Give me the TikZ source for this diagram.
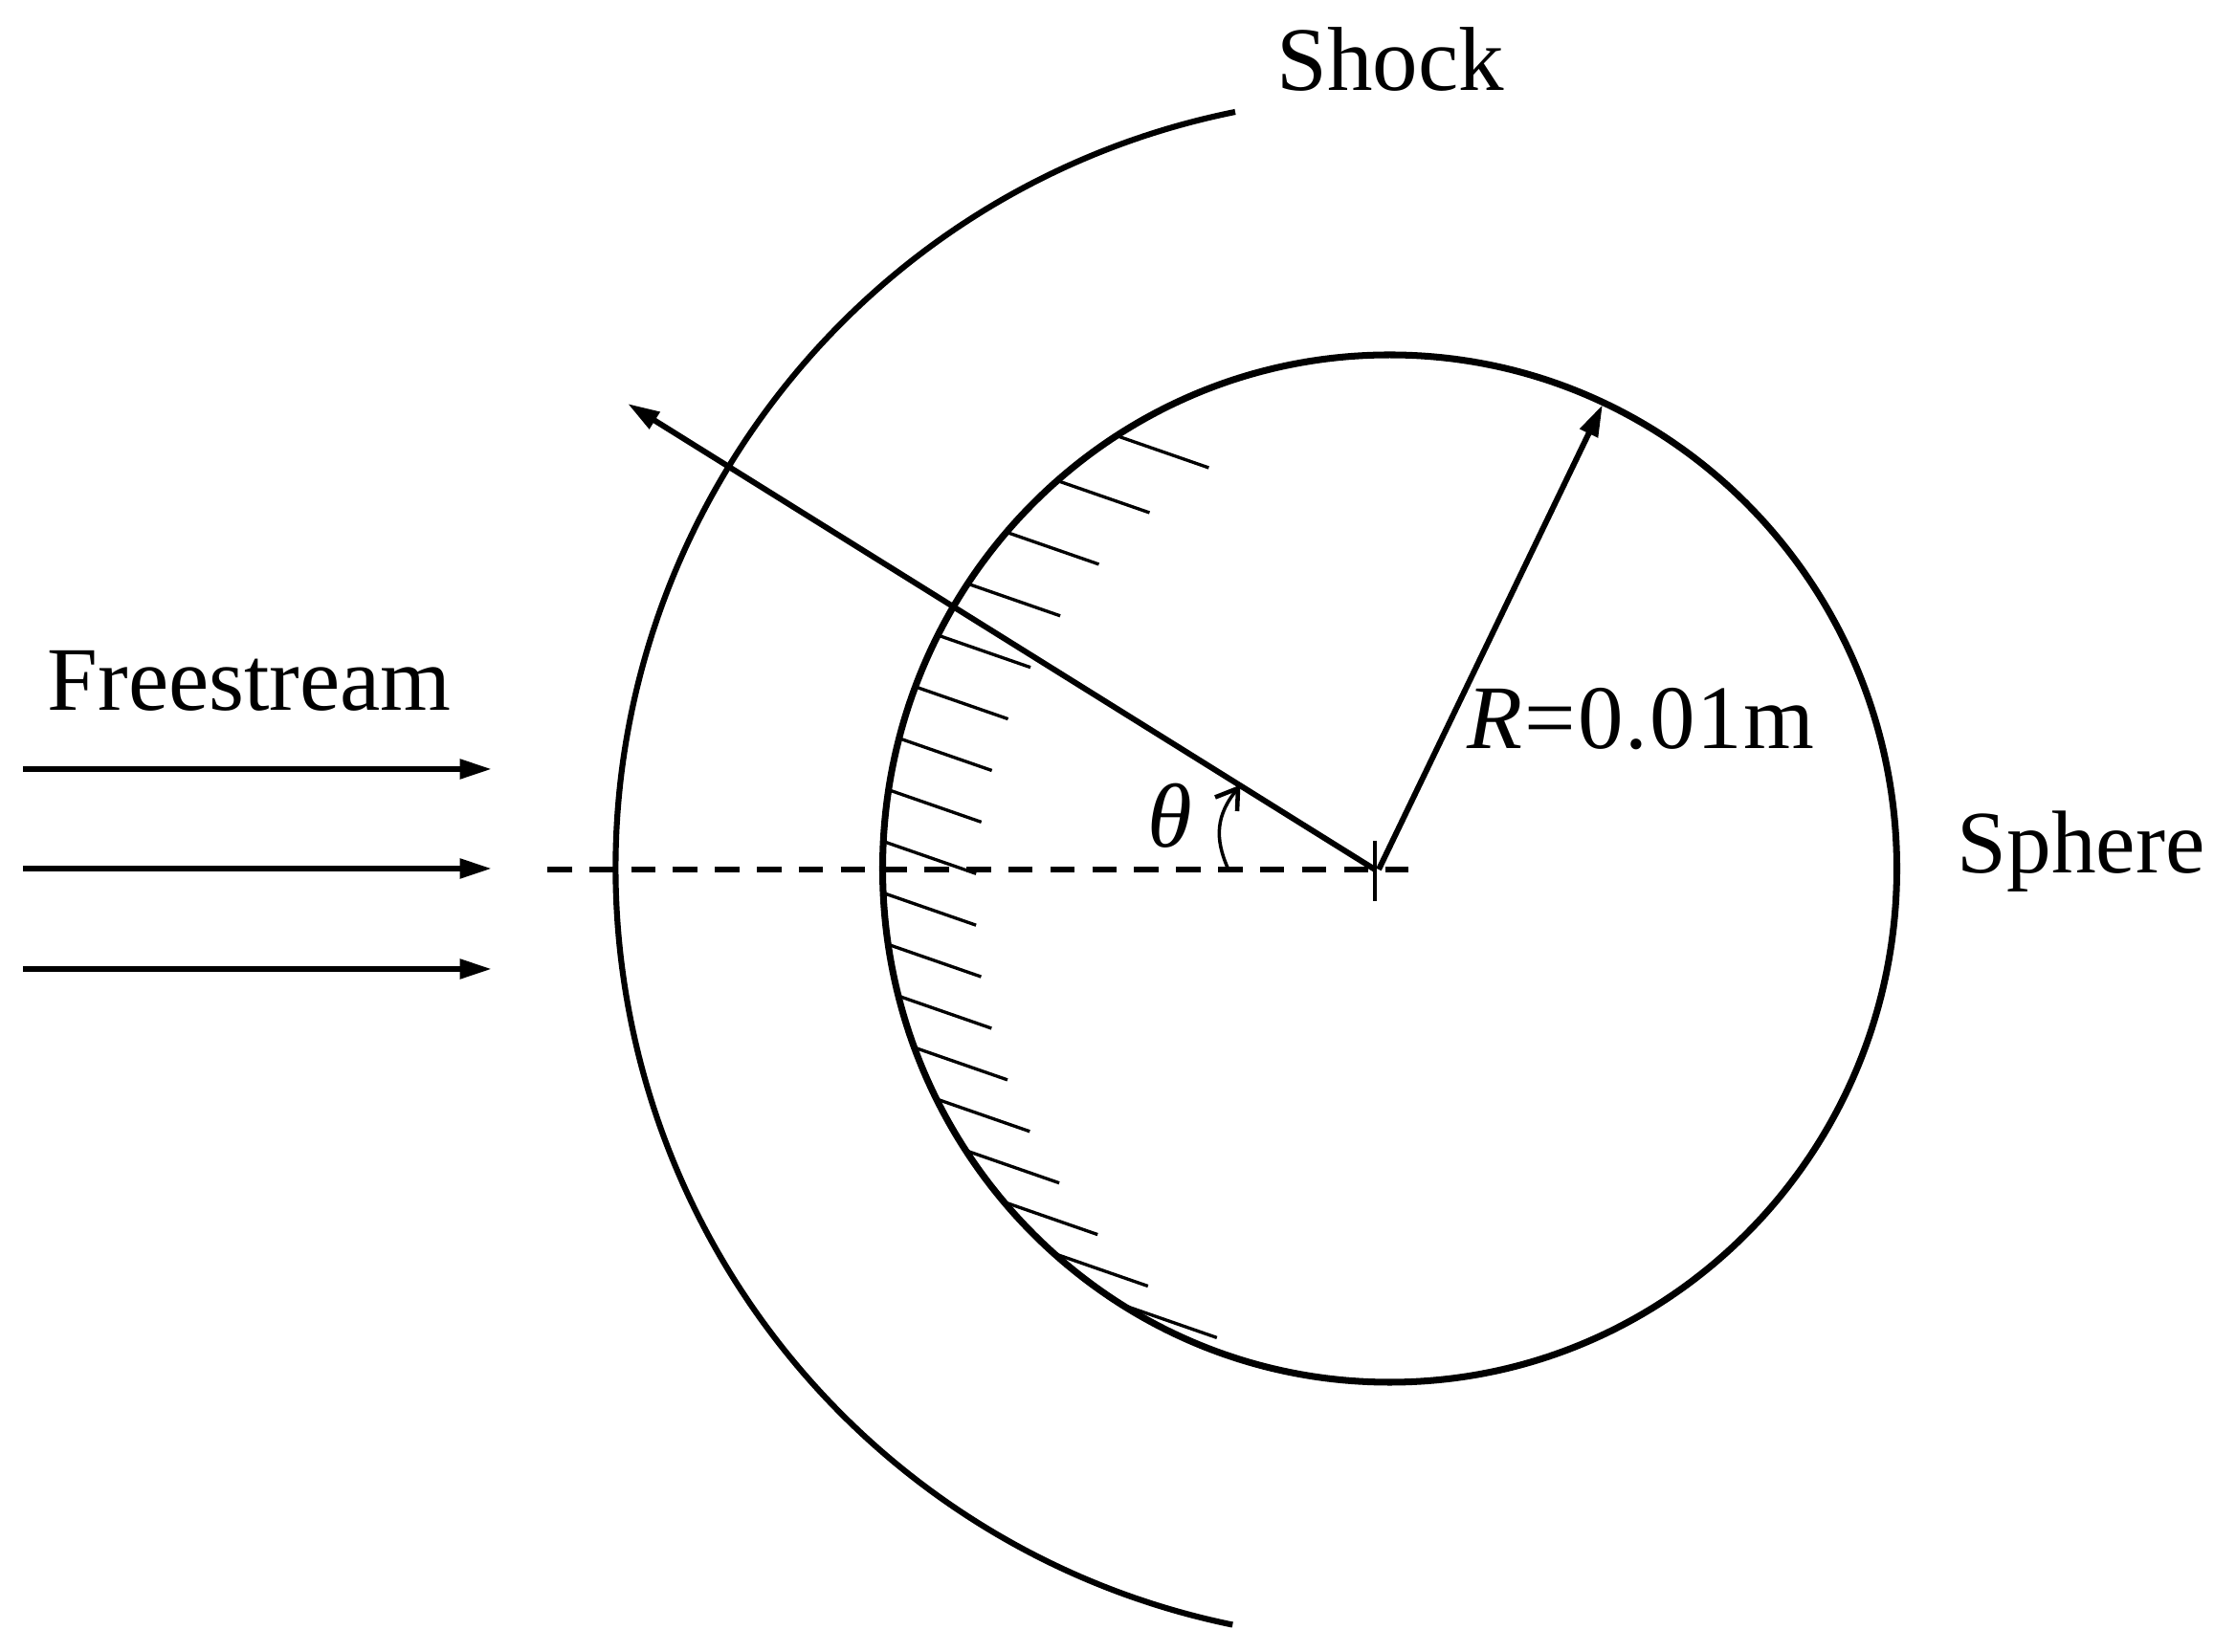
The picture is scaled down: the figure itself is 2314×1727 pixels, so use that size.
\documentclass[tikz,border=0pt]{standalone}
\usepackage{fontspec}
\setmainfont{Liberation Serif}
\usetikzlibrary{arrows.meta}
\tikzset{
  thickline/.style={line width=1.75pt,black},
  sphereline/.style={line width=2pt,black},
  hatchline/.style={line width=0.95pt,black},
  bigarrow/.style={line width=1.7pt,black,-{Triangle[length=9.5pt,width=5.6pt]}},
  dashline/.style={thickline,dash pattern=on 7.25pt off 5.21pt},
  label/.style={inner sep=0pt,anchor=base west,font=\fontsize{27}{30}\selectfont}
}
\begin{document}
\begin{tikzpicture}[x=0.01cm,y=0.01cm]
\useasboundingbox (0,0) rectangle (2314,1727);
\fill[white] (0,0) rectangle (2314,1727);
% coordinates
\coordinate (c) at (1437,818);
\coordinate (rayend) at (656,1305);
\coordinate (radend) at (1675,1304);
\coordinate (radstart) at (1441,818);
\coordinate (tickt) at (1437,848);
\coordinate (tickb) at (1437,785);
\coordinate (dashs) at (572,818);
\coordinate (dashe) at (1472,818);
\foreach \n/\yy in {a/923,b/819,d/714}{
  \coordinate (fs\n) at (24,\yy);
  \coordinate (fe\n) at (514,\yy);
  \draw[bigarrow,line width=1.75pt] (fs\n) -- (fe\n);
}
% shock
\draw[thickline] (1291,1610) arc[start angle=101.4,end angle=258.4,radius=807];
% sphere
\draw[sphereline] (1452.5,819) ellipse[x radius=530,y radius=537];
% hatching
\foreach \py in {456,503,556.9,610.8,664.7,718.6,772.5,826.4,880.3,934.2,988.1,1042,1095.9,1149.8,1203.7,1257.6,1311.5,1365.4}{
  \pgfmathsetmacro{\hx}{1454.5-530*sqrt(1-((\py-908)/537)^2)}
  \pgfmathsetmacro{\hy}{1727-\py}
  \draw[hatchline] (\hx,\hy) -- ++(95,-33);
}
% axes
\draw[dashline] (dashs) -- (dashe);
\draw[line width=1.15pt] (tickt) -- (tickb);
\draw[bigarrow] (c) -- (rayend);
\draw[bigarrow] (radstart) -- (radend);
% theta arc
\coordinate (tha) at (1283,820);
\coordinate (thb) at (1294,903);
\draw[line width=1pt] (tha) .. controls (1270,850) and (1270,875) .. (thb);
\draw[line width=1.3pt] (1270,893.5) -- (thb) -- (1293,879);
% labels
\node[label] (freestream) at (49,984) {Freestream};
\node[label] (shock) at (1334,1632) {Shock};
\node[label,font=\fontsize{26.5}{30}\selectfont] (sphere) at (2045,814) {Sphere};
\node[label] (radius) at (1533,944) {\addfontfeatures{LetterSpace=2}\textit{R}=0.01m};
\node[label] (theta) at (1199,841) {\textit{θ}};
\end{tikzpicture}
\end{document}
